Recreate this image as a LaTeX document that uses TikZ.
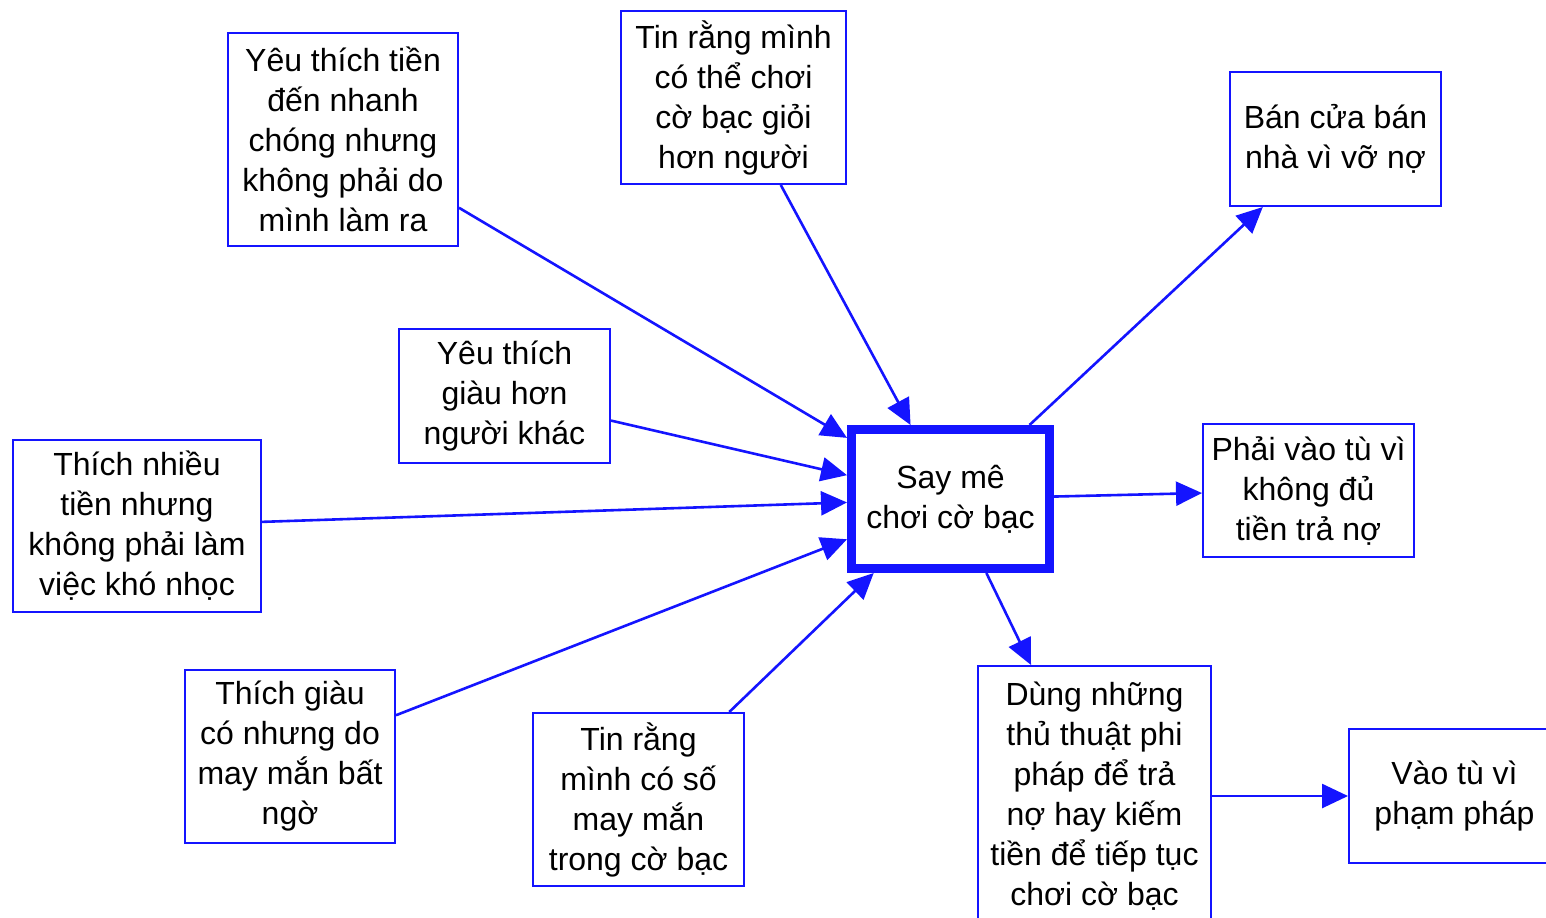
\documentclass[tikz,border=0pt]{standalone}
\usepackage{fontspec}
\setmainfont{Liberation Sans}
\usetikzlibrary{arrows.meta}
\definecolor{bblue}{RGB}{20,20,255}
\tikzset{
  box/.style={draw=bblue, line width=1pt, fill=white, align=center, inner sep=0pt,
    font=\fontsize{16}{20}\selectfont},
  mainbox/.style={box, line width=4.5pt},
  conn/.style={draw=bblue, line width=1.3pt, -{Triangle[length=13pt,width=12pt]}}
}
\begin{document}
\begin{tikzpicture}[x=0.5pt,y=-0.5pt]
\useasboundingbox (0,0) rectangle (1546,917);
\fill[white] (0,0) rectangle (1546,917);
\clip (0,0) rectangle (1546,917);
\node[box, minimum width=115pt, minimum height=106.5pt] (b1) at (343,139)
  {Yêu thích tiền\\đến nhanh\\chóng nhưng\\không phải do\\mình làm ra};
\node[box, minimum width=112.5pt, minimum height=86.5pt] (b2) at (733.5,97.5)
  {Tin rằng mình\\có thể chơi\\cờ bạc giỏi\\hơn người};
\node[box, minimum width=105.5pt, minimum height=67pt] (b3) at (1335.5,139)
  {Bán cửa bán\\nhà vì vỡ nợ};
\node[box, minimum width=105.5pt, minimum height=67pt] (b4) at (504.5,396)
  {Yêu thích\\giàu hơn\\người khác};
\node[box, minimum width=124pt, minimum height=86pt] (b5) at (137,526)
  {Thích nhiều\\tiền nhưng\\không phải làm\\việc khó nhọc};
\node[mainbox, minimum width=99pt, minimum height=69.5pt] (c) at (950.5,499)
  {Say mê\\chơi cờ bạc};
\node[box, minimum width=105.5pt, minimum height=66.5pt] (b7) at (1308.5,490.5)
  {Phải vào tù vì\\không đủ\\tiền trả nợ};
\node[box, minimum width=105pt, minimum height=86.5pt] (b8) at (290,756.5)
  {Thích giàu\\có nhưng do\\may mắn bất\\ngờ};
\node[box, minimum width=105.5pt, minimum height=86.5pt] (b9) at (638.5,799.5)
  {Tin rằng\\mình có số\\may mắn\\trong cờ bạc};
\node[box, minimum width=116.5pt, minimum height=130pt] (b10) at (1094.5,796)
  {Dùng những\\thủ thuật phi\\pháp để trả\\nợ hay kiếm\\tiền để tiếp tục\\chơi cờ bạc};
\node[box, minimum width=105.5pt, minimum height=67pt] (b11) at (1454.5,796)
  {Vào tù vì\\phạm pháp};
\draw[conn] (b1) -- (c);
\draw[conn] (b2) -- (c);
\draw[conn] (b4) -- (c);
\draw[conn] (b5) -- (c);
\draw[conn] (b8) -- (c);
\draw[conn] (b9) -- (c);
\draw[conn] (c) -- (b3);
\draw[conn] (c) -- (b7);
\draw[conn] (c) -- (b10);
\draw[conn] (b10) -- (b11);
\end{tikzpicture}
\end{document}
